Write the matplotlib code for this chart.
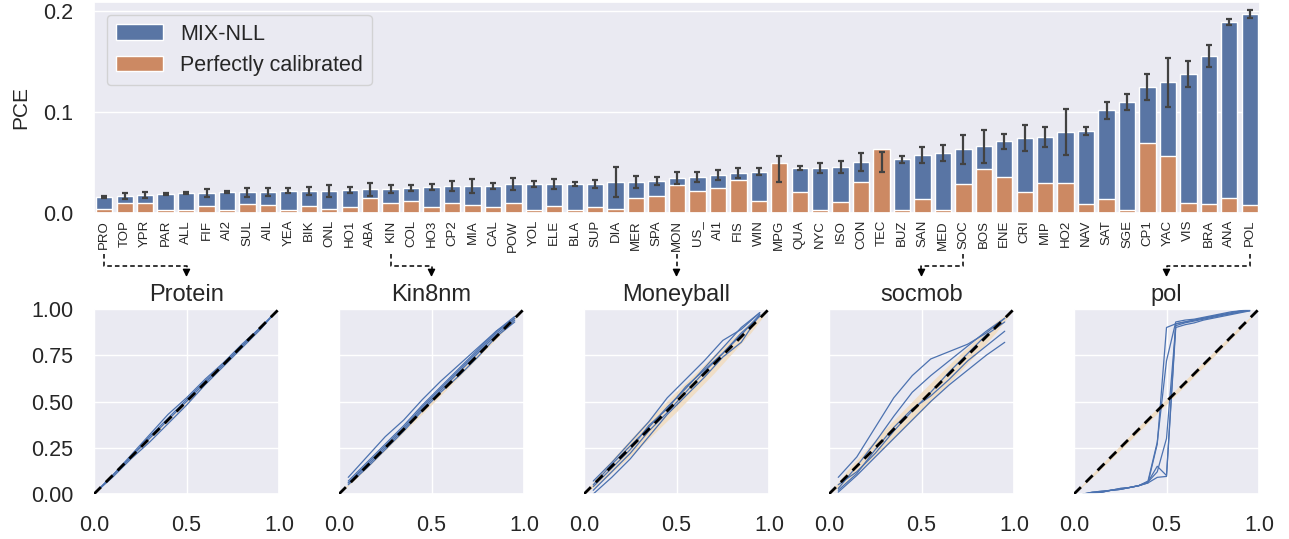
import numpy as np
import matplotlib
matplotlib.use('Agg')
import matplotlib.pyplot as plt
import seaborn as sns
from matplotlib.lines import Line2D

# ---------------- data ----------------
datasets = ["PRO", "TOP", "YPR", "PAR", "ALL", "FIF", "AI2", "SUL", "AIL", "YEA", "BIK", "ONL",
            "HO1", "ABA", "KIN", "COL", "HO3", "CP2", "MIA", "CAL", "POW", "YOL", "ELE", "BLA",
            "SUP", "DIA", "MER", "SPA", "MON", "US_", "AI1", "FIS", "WIN", "MPG", "QUA", "NYC",
            "ISO", "CON", "TEC", "BUZ", "SAN", "MED", "SOC", "BOS", "ENE", "CRI", "MIP", "HO2",
            "NAV", "SAT", "SGE", "CP1", "YAC", "VIS", "BRA", "ANA", "POL"]
mix_nll = [0.0158, 0.0165, 0.0175, 0.0188, 0.0198, 0.0198, 0.0205, 0.0205, 0.0205, 0.0218,
           0.0218, 0.0218, 0.0225, 0.0235, 0.0235, 0.0248, 0.0257, 0.0267, 0.0267, 0.0267,
           0.0287, 0.0287, 0.0287, 0.0287, 0.0287, 0.0307, 0.0307, 0.0317, 0.0347, 0.0356,
           0.0376, 0.0396, 0.0406, 0.0437, 0.0446, 0.0446, 0.0455, 0.0505, 0.0504, 0.0532,
           0.0571, 0.0591, 0.0630, 0.0660, 0.0710, 0.0740, 0.0750, 0.0800, 0.0810, 0.1017,
           0.1096, 0.1245, 0.1294, 0.1373, 0.1550, 0.1888, 0.1967]
mix_err = [0.0010, 0.0028, 0.0028, 0.0008, 0.0008, 0.0036, 0.0012, 0.0045, 0.0040, 0.0025,
           0.0040, 0.0060, 0.0030, 0.0066, 0.0040, 0.0026, 0.0028, 0.0050, 0.0070, 0.0030,
           0.0060, 0.0026, 0.0050, 0.0023, 0.0043, 0.0145, 0.0063, 0.0036, 0.0063, 0.0048,
           0.0053, 0.0053, 0.0035, 0.0127, 0.0023, 0.0053, 0.0056, 0.0092, 0.0100, 0.0036,
           0.0080, 0.0080, 0.0145, 0.0163, 0.0074, 0.0129, 0.0100, 0.0224, 0.0040, 0.0083,
           0.0078, 0.0125, 0.0243, 0.0127, 0.0110, 0.0025, 0.0035]
perfect = [0.0037, 0.0099, 0.0099, 0.0027, 0.0027, 0.0069, 0.0027, 0.0089, 0.0076, 0.0027,
           0.0069, 0.0037, 0.0059, 0.0146, 0.0099, 0.0116, 0.0056, 0.0099, 0.0076, 0.0056,
           0.0099, 0.0027, 0.0066, 0.0027, 0.0056, 0.0037, 0.0146, 0.0168, 0.0274, 0.0215,
           0.0248, 0.0327, 0.0116, 0.0495, 0.0208, 0.0027, 0.0109, 0.0307, 0.0630, 0.0027,
           0.0136, 0.0027, 0.0287, 0.0433, 0.0353, 0.0208, 0.0294, 0.0294, 0.0086, 0.0136,
           0.0027, 0.0690, 0.0564, 0.0099, 0.0086, 0.0146, 0.0076]

panel_titles = ["Protein", "Kin8nm", "Moneyball", "socmob", "pol"]
panel_source = ["PRO", "KIN", "MON", "SOC", "POL"]

# calibration curves (expected vs observed)
protein_x = [0.01, 0.1, 0.2, 0.3, 0.4, 0.5, 0.6, 0.7, 0.8, 0.9, 0.97]
protein_y = [
    [0.01, 0.10, 0.21, 0.32, 0.43, 0.52, 0.62, 0.71, 0.81, 0.90, 0.97],
    [0.01, 0.09, 0.19, 0.28, 0.38, 0.48, 0.59, 0.69, 0.79, 0.89, 0.97],
    [0.01, 0.10, 0.20, 0.31, 0.41, 0.51, 0.61, 0.70, 0.80, 0.90, 0.97],
    [0.01, 0.10, 0.20, 0.30, 0.40, 0.50, 0.60, 0.70, 0.80, 0.90, 0.97],
]
kin_x = [0.05, 0.15, 0.25, 0.35, 0.45, 0.55, 0.65, 0.75, 0.85, 0.95]
kin_y = [
    [0.09, 0.20, 0.31, 0.40, 0.51, 0.61, 0.70, 0.79, 0.88, 0.96],
    [0.06, 0.16, 0.26, 0.36, 0.47, 0.57, 0.67, 0.77, 0.87, 0.95],
    [0.05, 0.14, 0.24, 0.34, 0.45, 0.55, 0.64, 0.74, 0.85, 0.93],
    [0.06, 0.15, 0.25, 0.35, 0.46, 0.56, 0.66, 0.76, 0.86, 0.94],
    [0.07, 0.17, 0.27, 0.37, 0.48, 0.58, 0.68, 0.78, 0.88, 0.95],
]
money_x = [0.05, 0.15, 0.25, 0.35, 0.45, 0.55, 0.65, 0.75, 0.85, 0.95]
money_y = [
    [0.07, 0.17, 0.28, 0.39, 0.52, 0.62, 0.72, 0.83, 0.89, 0.98],
    [0.02, 0.12, 0.22, 0.34, 0.44, 0.55, 0.66, 0.76, 0.86, 0.97],
    [0.05, 0.16, 0.26, 0.36, 0.47, 0.57, 0.68, 0.79, 0.90, 0.98],
    [0.00, 0.09, 0.19, 0.31, 0.43, 0.53, 0.63, 0.74, 0.82, 0.97],
    [0.04, 0.14, 0.24, 0.37, 0.46, 0.58, 0.67, 0.76, 0.87, 0.96],
]
socmob_x = [0.05, 0.15, 0.25, 0.35, 0.45, 0.55, 0.65, 0.75, 0.85, 0.95]
socmob_y = [
    [0.09, 0.20, 0.36, 0.52, 0.64, 0.73, 0.77, 0.81, 0.87, 0.95],
    [0.03, 0.15, 0.28, 0.42, 0.55, 0.64, 0.72, 0.80, 0.88, 0.95],
    [0.05, 0.12, 0.22, 0.34, 0.45, 0.55, 0.66, 0.76, 0.86, 0.93],
    [0.01, 0.10, 0.20, 0.30, 0.40, 0.50, 0.59, 0.67, 0.75, 0.82],
    [0.02, 0.11, 0.24, 0.36, 0.46, 0.53, 0.62, 0.72, 0.80, 0.88],
]
pol_x = [0.05, 0.10, 0.15, 0.20, 0.25, 0.30, 0.35, 0.40, 0.45, 0.50,
         0.55, 0.60, 0.65, 0.70, 0.75, 0.80, 0.85, 0.90, 0.95]
pol_y = [
    [0.00, 0.01, 0.015, 0.02, 0.03, 0.035, 0.045, 0.06, 0.27, 0.90, 0.92, 0.93, 0.94, 0.95, 0.96, 0.97, 0.98, 0.99, 1.00],
    [0.00, 0.005, 0.01, 0.02, 0.025, 0.035, 0.045, 0.065, 0.12, 0.30, 0.91, 0.925, 0.935, 0.945, 0.955, 0.965, 0.975, 0.985, 0.995],
    [0.00, 0.005, 0.01, 0.02, 0.025, 0.035, 0.045, 0.06, 0.09, 0.095, 0.90, 0.915, 0.925, 0.94, 0.95, 0.96, 0.97, 0.98, 0.99],
    [0.00, 0.01, 0.015, 0.02, 0.03, 0.035, 0.045, 0.07, 0.28, 0.72, 0.93, 0.94, 0.945, 0.955, 0.965, 0.975, 0.985, 0.99, 1.00],
    [0.00, 0.005, 0.01, 0.02, 0.025, 0.035, 0.045, 0.065, 0.15, 0.10, 0.92, 0.93, 0.94, 0.95, 0.96, 0.97, 0.975, 0.985, 0.99],
]
curves_x = [protein_x, kin_x, money_x, socmob_x, pol_x]
curves_y = [protein_y, kin_y, money_y, socmob_y, pol_y]

# half-width of the "perfectly calibrated" band
band_p = [0.0, 0.1, 0.3, 0.5, 0.7, 0.9, 1.0]
band_hw = [
    [0.0, 0.003, 0.005, 0.006, 0.005, 0.003, 0.0],
    [0.0, 0.010, 0.015, 0.017, 0.015, 0.010, 0.0],
    [0.0, 0.030, 0.050, 0.055, 0.050, 0.030, 0.0],
    [0.0, 0.030, 0.048, 0.052, 0.048, 0.030, 0.0],
    [0.0, 0.010, 0.014, 0.015, 0.014, 0.010, 0.0],
]

# ---------------- style ----------------
sns.set_theme(style="darkgrid")
plt.rcParams['font.family'] = ['Liberation Sans', 'DejaVu Sans']
plt.rcParams['text.color'] = '#262626'
plt.rcParams['xtick.color'] = '#262626'
plt.rcParams['ytick.color'] = '#262626'

BLUE = '#5975A4'
ORANGE = '#CC8963'
LINE_BLUE = '#4C72B0'
BAND = '#F0DEC6'

W, H = 1289, 539
fig = plt.figure(figsize=(W / 100, H / 100), dpi=100)

def fr(x0, y0, w, h):
    return [x0 / W, 1 - (y0 + h) / H, w / W, h / H]

# ---------------- top bar chart ----------------
ax = fig.add_axes(fr(94, 2, 1166, 211))
idx = np.arange(len(datasets))
ax.bar(idx, mix_nll, width=0.8, color=BLUE, label='MIX-NLL', zorder=2)
ax.bar(idx, perfect, width=0.8, color=ORANGE, label='Perfectly calibrated', zorder=2)
ax.errorbar(idx, mix_nll, yerr=mix_err, fmt='none', ecolor='#424242',
            elinewidth=1.6, capsize=2, capthick=1.6, zorder=3)
ax.set_xlim(-0.5, len(datasets) - 0.5)
ax.set_ylim(0, 0.2086)
ax.set_yticks([0, 0.1, 0.2])
ax.set_yticklabels(['0.0', '0.1', '0.2'])
ax.set_xticks(idx)
ax.set_xticklabels(datasets, rotation=90, fontsize=9.5)
ax.grid(axis='x', visible=False)
ax.tick_params(axis='y', labelsize=15.5, length=0, pad=15)
ax.tick_params(axis='x', length=0, pad=5)
ax.set_ylabel('PCE', fontsize=15, labelpad=9)
ax.legend(loc='upper left', fontsize=15.5, frameon=True, borderaxespad=0.6,
          handlelength=2.2, labelspacing=0.5)

# ---------------- bottom calibration panels ----------------
for k in range(5):
    a = fig.add_axes(fr(94 + 245 * k, 309, 185, 185))
    bp = np.array(band_p)
    hw = np.array(band_hw[k])
    a.fill_between(bp, bp - hw, bp + hw, color=BAND, alpha=1.0, lw=0, zorder=1)
    for ys in curves_y[k]:
        a.plot(curves_x[k], ys, color=LINE_BLUE, lw=0.9, zorder=2)
    a.plot([0, 1], [0, 1], color='black', ls='--', lw=2, dashes=(3.5, 2.5), zorder=3)
    a.set_xlim(0, 1)
    a.set_ylim(0, 1)
    a.set_xticks([0, 0.5, 1.0])
    a.set_xticklabels(['0.0', '0.5', '1.0'])
    a.set_yticks([0, 0.25, 0.5, 0.75, 1.0])
    if k == 0:
        a.set_yticklabels(['0.00', '0.25', '0.50', '0.75', '1.00'])
    else:
        a.set_yticklabels([])
    a.tick_params(labelsize=15.5, length=0, pad=15)
    a.set_title(panel_titles[k], fontsize=17, pad=6)

# ---------------- connectors ----------------
inv = fig.transFigure.inverted()
y_start = 1 - 254 / H
y_mid = 1 - 266 / H
y_tip = 1 - 277 / H
for k, name in enumerate(panel_source):
    i = datasets.index(name)
    sx = inv.transform(ax.transData.transform((i, 0)))[0]
    ex = 94 / W + (245 * k + 92.5) / W
    fig.add_artist(Line2D([sx, sx, ex, ex], [y_start, y_mid, y_mid, y_tip + 0.008],
                          transform=fig.transFigure, color='black', lw=1.1,
                          ls=(0, (3, 2))))
    fig.add_artist(matplotlib.patches.FancyArrowPatch(
        (ex, y_tip + 0.01), (ex, y_tip), transform=fig.transFigure,
        arrowstyle='-|>', mutation_scale=11, color='black', lw=1,
        shrinkA=0, shrinkB=0))

fig.savefig('out.png', dpi=100)
